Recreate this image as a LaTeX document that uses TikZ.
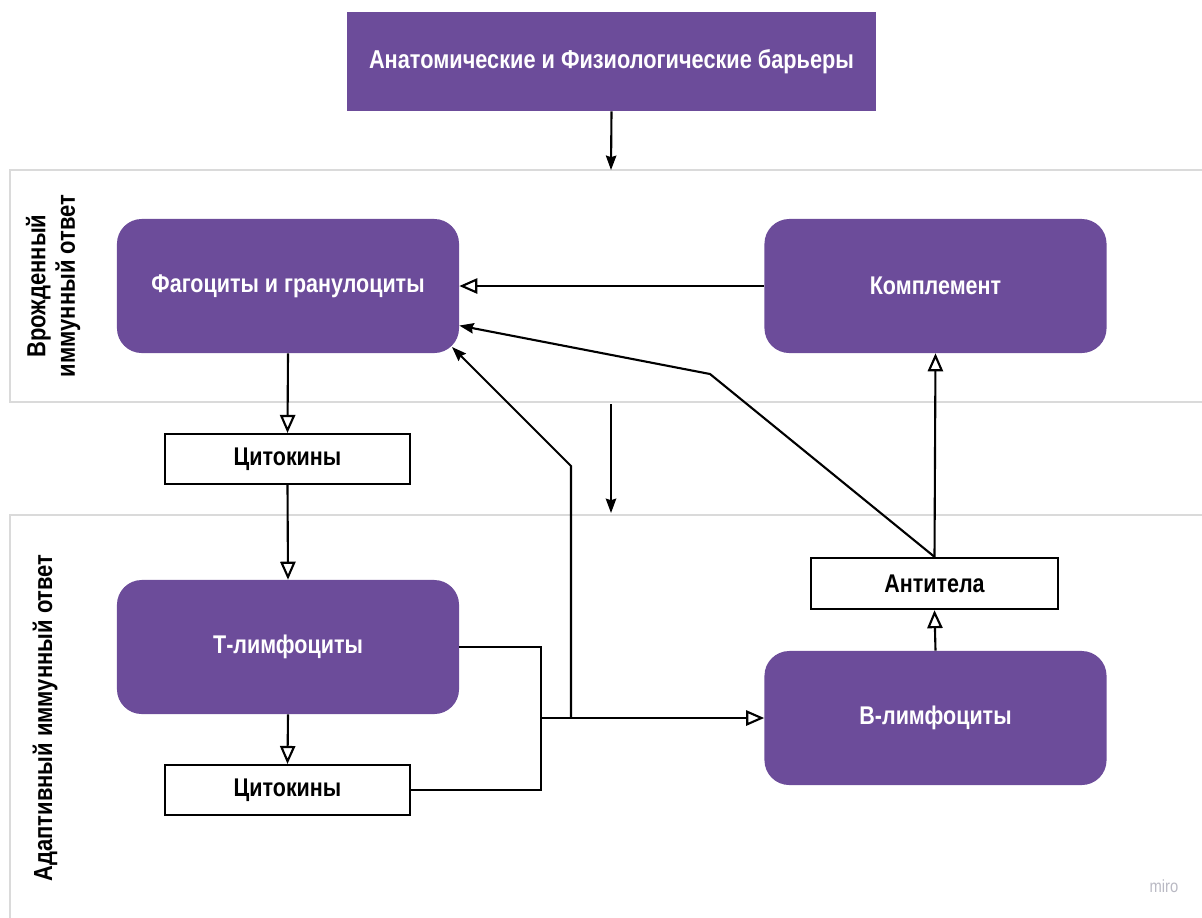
\documentclass[tikz,border=0pt]{standalone}
\usepackage{fontspec}
\setmainfont{Liberation Sans}[FakeStretch=0.84]
\usepackage{xcolor}
\usetikzlibrary{arrows.meta, positioning, calc}
\definecolor{immpurple}{RGB}{108,76,154}
\definecolor{bandgray}{RGB}{218,218,218}
\definecolor{mirogray}{RGB}{185,185,195}

\begin{document}
\begin{tikzpicture}[
    x=0.025cm, y=-0.025cm,
    pbox/.style={fill=immpurple, rounded corners=0.62cm, minimum width=8.55cm, minimum height=3.35cm, inner sep=0pt, text=white, font=\fontsize{18.2}{21}\selectfont\bfseries},
    wbox/.style={draw, line width=1.5pt, fill=white, minimum width=6.13cm, minimum height=1.25cm, inner sep=0pt, font=\fontsize{18.2}{21}\selectfont\bfseries},
    band/.style={draw=bandgray, line width=1.1pt},
    sidelabel/.style={rotate=90, align=center, font=\fontsize{18.6}{21}\selectfont\bfseries},
    oarr/.style={-{Triangle[open, length=0.45cm, width=0.38cm, fill=white]}, line width=1.5pt},
    farr/.style={-{Stealth[length=0.36cm, width=0.26cm, inset=0.04cm]}, line width=1.5pt},
    line/.style={line width=1.5pt},
]
\useasboundingbox (0,0) rectangle (1202,917);

% Bands
\draw[band] (1215,170) -- (10,170) -- (10,402) -- (1215,402);
\draw[band] (1215,515) -- (10,515) -- (10,925);
\node[sidelabel] (innate) at (53,286) {Врожденный\\иммунный ответ};
\node[sidelabel] (adapt) at (45,718) {Адаптивный иммунный ответ};

% Barriers
\node[fill=immpurple, minimum width=13.23cm, minimum height=2.48cm, inner sep=0pt, text=white, font=\fontsize{18.4}{21}\selectfont\bfseries] (barrier) at (611.5,61.5) {Анатомические и Физиологические барьеры};

% Main blocks
\node[pbox] (phago) at (288,286) {Фагоциты и гранулоциты};
\node[pbox] (compl) at (935.5,286) {Комплемент};
\node[pbox] (tlym) at (288,647) {Т-лимфоциты};
\node[pbox] (blym) at (935.5,718) {В-лимфоциты};

% Small boxes
\node[wbox] (cyto1) at (287.5,459) {Цитокины};
\node[wbox] (cyto2) at (287.5,790) {Цитокины};
\node[wbox, minimum width=6.18cm, minimum height=1.28cm] (antib) at (934.5,583.5) {Антитела};

% Helper points
\coordinate (bandtop) at (611,170);
\coordinate (midtop) at (611,404);
\coordinate (midbot) at (611,513);
\coordinate (joint) at (541,718);
\coordinate (split) at (571,718);
\coordinate (riser) at (571,466);
\coordinate (phagocorner) at (452,347);
\coordinate (bend) at (710,374);

% Arrows
\draw[farr] (barrier.south) -- (bandtop);
\draw[farr] (midtop) -- (midbot);
\draw[oarr] (compl.west) -- (phago.east);
\draw[oarr] (phago.south) -- (cyto1.north);
\draw[oarr] (cyto1.south) -- (tlym.north);
\draw[oarr] (tlym.south) -- (cyto2.north);
\draw[line] (tlym.east) -| (joint);
\draw[line] (cyto2.east) -| (joint);
\draw[oarr] (joint) -- (blym.west);
\draw[farr] (split) -- (riser) -- (phagocorner);
\draw[oarr] (blym.north) -- (antib.south);
\draw[oarr] (antib.north) -- (compl.south);
\draw[farr] (antib.north) -- (bend) -- (phago.-13.5);

% Watermark
\node[text=mirogray, font=\fontsize{12.5}{14}\selectfont] (miro) at (1164,886) {miro};
\end{tikzpicture}
\end{document}
